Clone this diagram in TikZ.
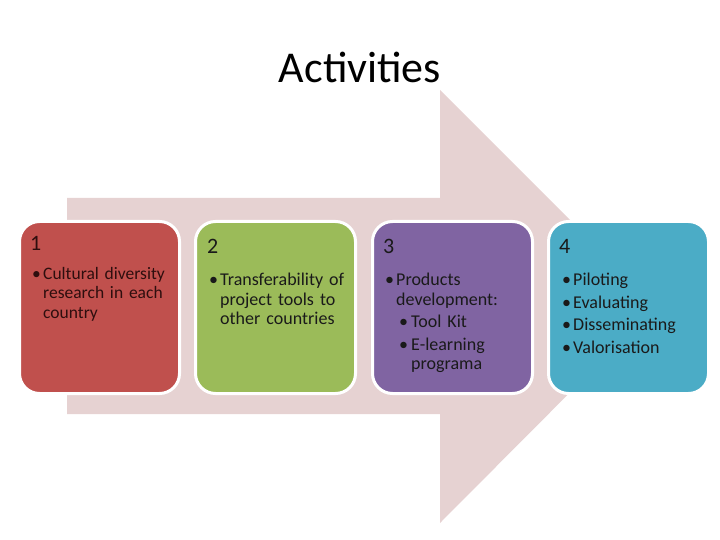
\documentclass[tikz,border=0pt]{standalone}
\usepackage{fontspec}
\setmainfont{Carlito}
\definecolor{arrowpink}{HTML}{E6D2D2}
\definecolor{cred}{HTML}{C0504D}
\definecolor{cgreen}{HTML}{9BBB59}
\definecolor{cpurple}{HTML}{8064A2}
\definecolor{cteal}{HTML}{4BACC6}
\definecolor{ink}{HTML}{1A1A1A}
\definecolor{redink}{HTML}{2E0E0E}
\newcommand\bitem[1]{\par\noindent\makebox[11pt][l]{\textbullet}\parbox[t]{130pt}{\raggedright #1}\par\vspace{3pt}}
\newcommand\sitem[1]{\par\noindent\makebox[26pt][l]{\kern14pt\textbullet}\parbox[t]{115pt}{\raggedright #1}\par\vspace{3pt}}
\begin{document}
\begin{tikzpicture}[x=1pt,y=-1pt,
  card/.style={draw=white, line width=3pt, rounded corners=20pt, minimum width=160pt, minimum height=172pt, inner sep=0pt, anchor=north west},
  num/.style={anchor=west, inner sep=0pt, font=\fontsize{22}{26}\selectfont, text=ink},
  body/.style={anchor=north west, inner sep=0pt, text width=142pt, text=ink,
    font=\fontsize{18}{19.5}\selectfont}]
\useasboundingbox (0,0) rectangle (720,540);
% big arrow
\fill[arrowpink] (67,198) -- (440,198) -- (440,90) -- (656,306) -- (440,523) -- (440,414) -- (67,414) -- cycle;
% title
\node (title) at (360,67) {\fontsize{44}{50}\selectfont Activities};
% cards
\node[card, fill=cred] (b1) at (18,220) {};
\node[card, fill=cgreen] (b2) at (194,220) {};
\node[card, fill=cpurple] (b3) at (371,220) {};
\node[card, fill=cteal] (b4) at (547,220) {};
% numbers
\node[num, text=redink] (n1) at (30,243.5) {1};
\node[num] (n2) at (207,246) {2};
\node[num] (n3) at (383,246) {3};
\node[num] (n4) at (559,246) {4};
% texts
\node[body, font=\fontsize{17.5}{19.5}\selectfont, text=redink] (t1) at (32,259.5) {\bitem{Cultural diversity\\research in each\\country}};
\node[body] (t2) at (209,266) {\bitem{Transferability of\\project tools to\\other countries}};
\node[body] (t3) at (385,266) {\bitem{Products\\development:}\vspace{3pt}\sitem{Tool Kit}\sitem{E-learning\\programa}};
\node[body] (t4) at (562,266) {\bitem{Piloting}\bitem{Evaluating}\bitem{Disseminating}\bitem{Valorisation}};
\end{tikzpicture}
\end{document}
